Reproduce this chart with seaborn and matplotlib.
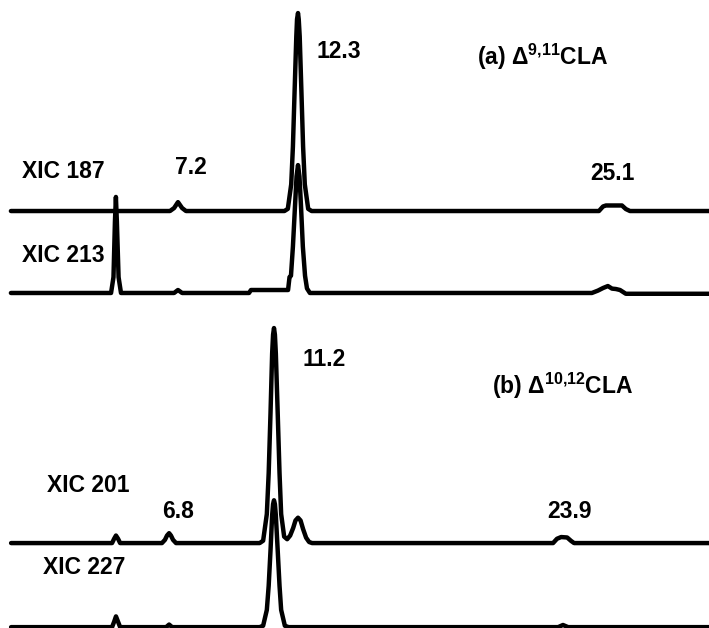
import numpy as np
import matplotlib.pyplot as plt
import seaborn as sns

# XIC traces: retention time (min) and relative intensity
# (a) delta-9,11 CLA
t_187 = [0.31, 6.87, 7.04, 7.20, 7.37, 7.53,
         11.59, 11.73, 11.87, 11.94, 12.01, 12.08, 12.11, 12.15, 12.18, 12.22, 12.29, 12.36, 12.43, 12.57, 12.71,
         24.56, 24.73, 24.85, 25.51, 25.67, 25.84, 29.10]
i_187 = [0, 0, 1.5, 4.5, 1.5, 0,
         0, 1.1, 13.5, 32.5, 60.7, 88.2, 96.9, 100, 96.9, 88.2, 60.7, 32.5, 13.5, 1.1, 0,
         0, 2.3, 2.8, 2.8, 1.0, 0, 0]

t_213 = [0.31, 4.44, 4.54, 4.60, 4.64, 4.68, 4.75, 4.85, 7.04, 7.20, 7.37,
         10.13, 10.21, 11.74, 11.80,
         11.86, 11.94, 12.03, 12.09, 12.15, 12.21, 12.27, 12.35, 12.44, 12.52, 12.64,
         24.27, 24.52, 24.73, 24.93, 25.10, 25.26, 25.43, 25.67, 29.10]
i_213 = [0, 0, 8, 36, 48.5, 36, 8, 0, 0, 1.5, 0,
         0, 1.5, 1.5, 8,
         8.7, 23.4, 44.8, 58.9, 64.6, 58.9, 44.8, 23.4, 8.7, 2.3, 0,
         0, 1.2, 2.5, 3.5, 2.2, 2.0, 1.5, -0.4, -0.4]

# (b) delta-10,12 CLA
t_201 = [-0.04, 4.33, 4.42, 4.50, 4.59, 4.68, 6.49, 6.62, 6.71, 6.80, 6.88, 6.97, 7.10,
         10.72, 10.87, 11.03, 11.11, 11.19, 11.26, 11.30, 11.34, 11.38, 11.42, 11.50, 11.58, 11.65,
         11.78, 11.91, 12.04, 12.17, 12.27, 12.38, 12.49, 12.60, 12.73, 12.86, 12.99,
         23.42, 23.59, 23.77, 24.03, 24.20, 24.33, 30.17]
i_201 = [0, 0, 2, 3.5, 2, 0, 0, 1.5, 3.5, 4.6, 3.5, 1.5, 0,
         0, 1.1, 13.5, 32.5, 60.7, 88.2, 96.9, 100, 96.9, 88.2, 60.7, 32.5, 13.5,
         3, 1.8, 3.5, 7, 10.5, 11.8, 10.5, 6.5, 2.5, 0.5, 0,
         0, 2, 2.8, 2.6, 1, 0, 0]

t_227 = [-0.04, 4.33, 4.42, 4.50, 4.59, 4.68, 6.67, 6.80, 6.93,
         10.72, 10.87, 11.03, 11.11, 11.19, 11.26, 11.30, 11.34, 11.38, 11.42, 11.50, 11.58, 11.65, 11.81, 11.97,
         23.64, 23.85, 24.07, 30.17]
i_227 = [0, 0, 2.5, 5, 2.5, 0, 0, 1.2, 0,
         0, 0.65, 8, 19.2, 35.8, 52, 57.2, 59, 57.2, 52, 35.8, 19.2, 8, 0.65, 0,
         0, 1, 0, 0]

sns.set_style("white")
plt.rcParams['font.family'] = ['Liberation Sans', 'DejaVu Sans']
plt.rcParams['mathtext.default'] = 'regular'

W, H = 709, 628
fig = plt.figure(figsize=(W / 100, H / 100), dpi=100)
fig.patch.set_facecolor('white')

ax_a = fig.add_axes([0, 1 - 310 / H, 1, 310 / H])
ax_b = fig.add_axes([0, 0, 1, 318 / H])

lw = 3.2
# stacked traces, each one shifted down by its offset
for ax, traces in [(ax_a, [(t_187, i_187, 0), (t_213, i_213, -41.4)]),
                   (ax_b, [(t_201, i_201, 0), (t_227, i_227, -39.1)])]:
    for t, inten, off in traces:
        sns.lineplot(x=t, y=np.array(inten) + off, ax=ax, color='black',
                     lw=lw, estimator=None, sort=False)
    ax.set_axis_off()

ax_a.set_xlim(-0.14, 29.10)
ax_a.set_ylim(-50, 106.6)
ax_b.set_xlim(-0.52, 30.17)
ax_b.set_ylim(-39.5, 108.4)

fs = 16.5
def label(x, y, s, ha='left'):
    fig.text(x / W, 1 - y / H, s, ha=ha, va='center', fontsize=fs,
             fontweight='bold', color='black')

label(22, 172, 'XIC 187')
label(22, 256, 'XIC 213')
label(191, 168, '7.2', ha='center')
label(317, 51, '12.3')
label(612, 173, '25.1', ha='center')
label(477, 57, r'(a) Δ$^{9{,}11}$CLA')

label(47, 485, 'XIC 201')
label(43, 567, 'XIC 227')
label(178, 512, '6.8', ha='center')
label(302, 360, '11.2')
label(570, 512, '23.9', ha='center')
label(492, 386, r'(b) Δ$^{10{,}12}$CLA')

fig.savefig('out.png', dpi=100, facecolor='white')
